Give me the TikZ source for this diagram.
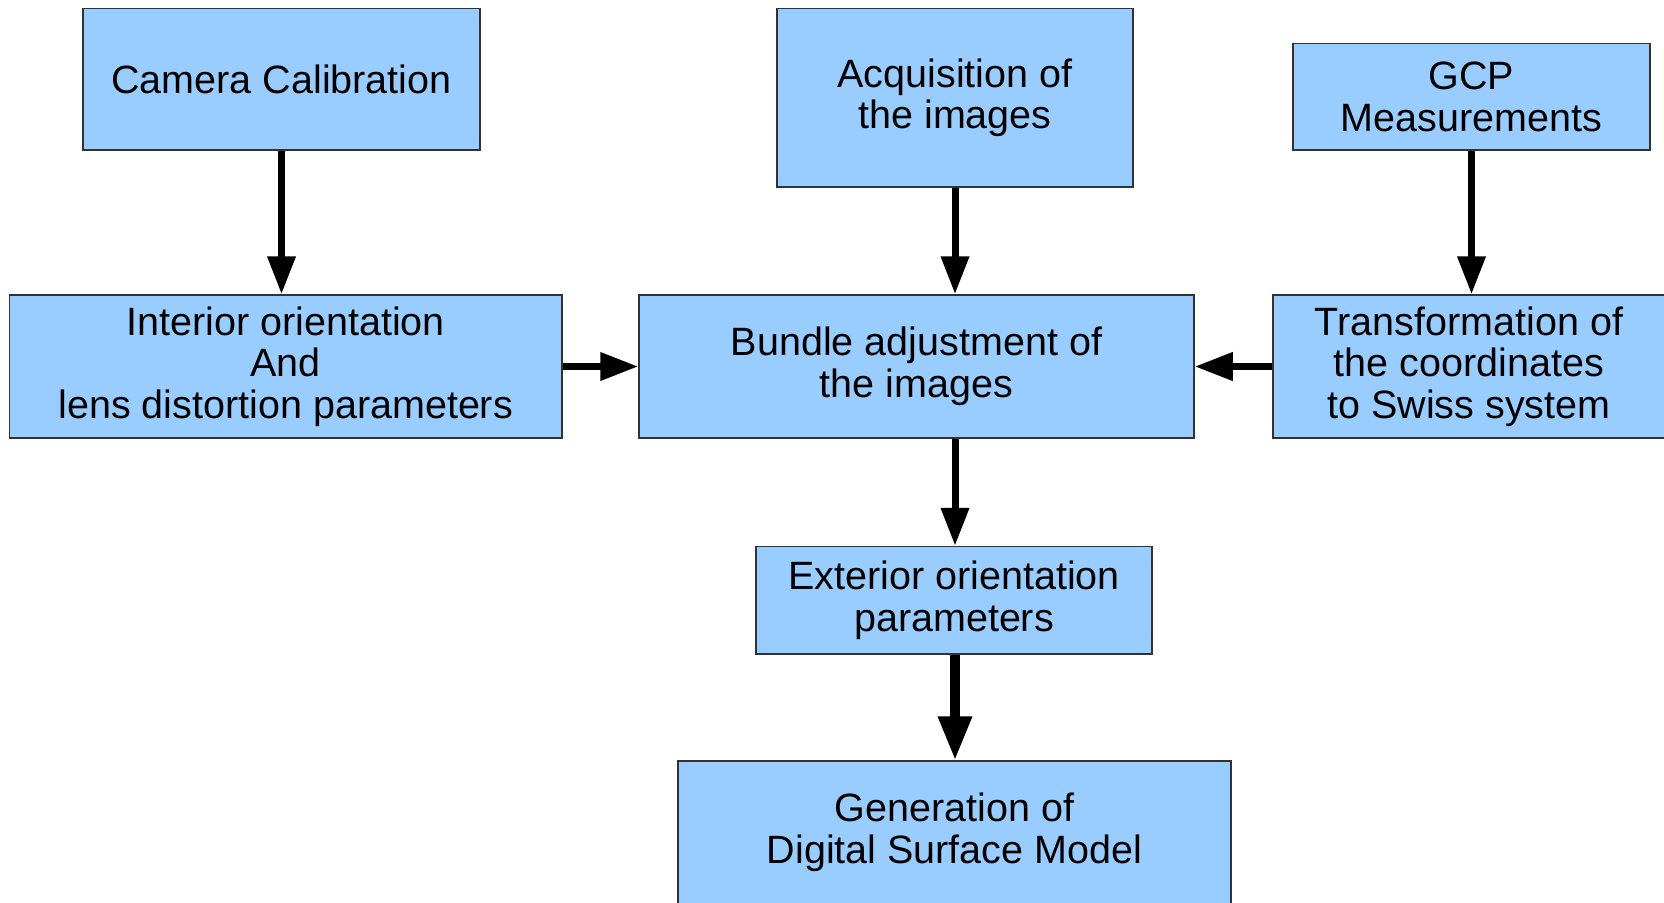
\documentclass[tikz,border=0pt]{standalone}
\usepackage{fontspec}
\setmainfont{Liberation Sans}
\usetikzlibrary{arrows.meta}
\definecolor{boxfill}{RGB}{153,204,255}
\definecolor{boxline}{RGB}{50,50,50}
\tikzset{
  stagebox/.style={draw=boxline, fill=boxfill, line width=1.5pt, inner sep=0pt,
    align=center, font=\fontsize{39.5}{41.5}\selectfont},
  flow/.style={line width=7pt, -{Triangle[length=38pt,width=27pt]}},
  bigflow/.style={line width=9.5pt, -{Triangle[length=44pt,width=32pt]}}
}
\begin{document}
\begin{tikzpicture}[x=1pt,y=-1pt]
\useasboundingbox (0,0) rectangle (1664,902);
% top row
\node[stagebox, minimum width=397pt, minimum height=141.5pt] (cam) at (281.5,79.25) {Camera Calibration};
\node[stagebox, minimum width=356pt, minimum height=178.5pt] (acq) at (955,97.75) {Acquisition of\\the images};
\node[stagebox, minimum width=357pt, minimum height=106.5pt] (gcp) at (1471.5,96.75) {GCP\\Measurements};
% middle row
\node[stagebox, minimum width=552.5pt, minimum height=143pt] (int) at (285.75,366.5) {Interior orientation\\And\\lens distortion parameters};
\node[stagebox, minimum width=555pt, minimum height=143pt] (bun) at (916.5,366.5) {Bundle adjustment of\\the images};
\node[stagebox, minimum width=392pt, minimum height=143pt] (tr) at (1469,366.5) {Transformation of\\the coordinates\\to Swiss system};
% lower chain
\node[stagebox, minimum width=396pt, minimum height=107.5pt] (ext) at (954,600.25) {Exterior orientation\\parameters};
\node[stagebox, minimum width=553pt, minimum height=143pt] (gen) at (954.5,832.5) {Generation of\\Digital Surface Model};
% connectors
\draw[flow] (cam.south) -- (cam.south |- int.north);
\draw[flow] (acq.south) -- (acq.south |- bun.north);
\draw[flow] (gcp.south) -- (gcp.south |- tr.north);
\draw[flow] (int.east) -- (bun.west);
\draw[flow] (tr.west) -- (bun.east);
\draw[flow] (acq.south |- bun.south) -- (acq.south |- ext.north);
\draw[bigflow] (acq.south |- ext.south) -- (acq.south |- gen.north);
\end{tikzpicture}
\end{document}
